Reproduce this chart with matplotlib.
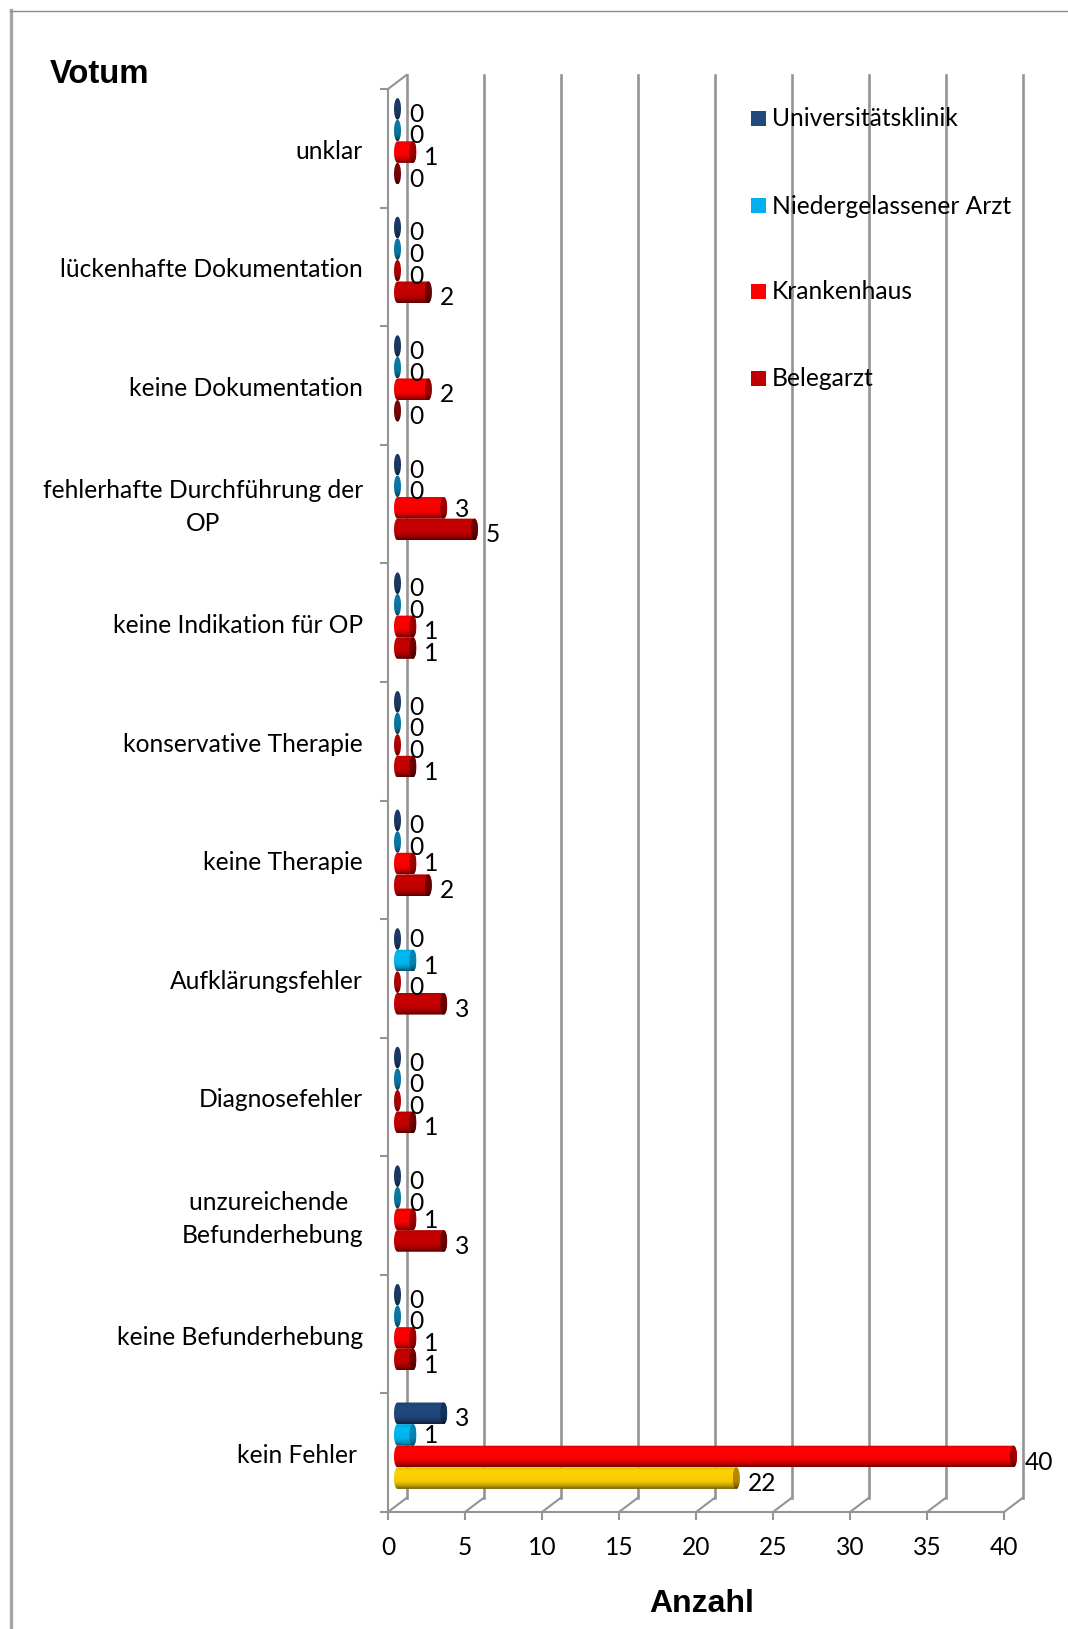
import numpy as np
import matplotlib
matplotlib.use('Agg')
import matplotlib.pyplot as plt
from matplotlib.lines import Line2D
from matplotlib.patches import PathPatch, Rectangle
from matplotlib.path import Path
from matplotlib.transforms import ScaledTranslation

categories = ['unklar', 'lückenhafte Dokumentation', 'keine Dokumentation',
              'fehlerhafte Durchführung der\nOP', 'keine Indikation für OP',
              'konservative Therapie', 'keine Therapie', 'Aufklärungsfehler',
              'Diagnosefehler', 'unzureichende \nBefunderhebung',
              'keine Befunderhebung', 'kein Fehler ']
universitaet = [0, 0, 0, 0, 0, 0, 0, 0, 0, 0, 0, 3]
niedergelassen = [0, 0, 0, 0, 0, 0, 0, 1, 0, 0, 0, 1]
krankenhaus = [1, 0, 2, 3, 1, 0, 1, 0, 0, 1, 1, 40]
belegarzt = [0, 2, 0, 5, 1, 1, 2, 3, 1, 3, 1, 22]
series_names = ['Universitätsklinik', 'Niedergelassener Arzt', 'Krankenhaus', 'Belegarzt']
x_ticks = [0, 5, 10, 15, 20, 25, 30, 35, 40]

W, H = 1068, 1629
FONT = 'Lato'
TXT = 24.6 * 0.72
GREY = '#949494'

# body colour, end cap colour, colour of a zero-length bar
styles = [('#21497f', '#15335c', '#1c3a66'),
          ('#00baf5', '#0087b5', '#0a7aa5'),
          ('#ff0000', '#a00000', '#b00404'),
          ('#c80000', '#6e0000', '#7a0505')]
highlight = ('#ffd200', '#b88a00', '#b88a00')  # Belegarzt bar of the last category

# hand-moved value labels: (category, series) -> px upward
label_nudge = {(3, 2): 4, (6, 2): 6, (7, 0): 5, (9, 2): 4, (11, 1): 5}

fig = plt.figure(figsize=(W / 100, H / 100), dpi=100, facecolor='white')
ax = fig.add_axes([388 / W, 1 - 1512 / H, (1004 - 388) / W, (1512 - 89) / H])
ax.set_facecolor('none')

sx = (1004 - 388) / 40   # px per unit
sy = (1512 - 89) / 12    # px per category
depth_x, depth_y = 18.5 / sx, 14 / sy
bar_h = 21.6 / sy
base = 9.5 / sx
cap = 3.5 / sx
shift = 7 / sy

# back wall and the slanted floor lines
for t in x_ticks:
    ax.plot([t + depth_x] * 2, [-depth_y, 12 - depth_y], color=GREY, lw=1.9, clip_on=False, zorder=1)
    ax.plot([t, t + depth_x], [12, 12 - depth_y], color=GREY, lw=1.5, clip_on=False, zorder=1)
ax.plot([0, depth_x], [0, -depth_y], color=GREY, lw=1.5, clip_on=False, zorder=1)


def half_ellipse(xc, yc, side, n=24):
    a = np.linspace(-np.pi / 2, np.pi / 2, n)
    return np.c_[xc + side * cap * np.cos(a), yc + bar_h / 2 * np.sin(a)]


def shaded(color, n=64):
    rgb = np.array(matplotlib.colors.to_rgb(color))
    pos = np.linspace(0, 1, n)
    k = np.interp(pos, [0, 0.18, 0.65, 0.85, 1], [0.88, 1, 0.96, 0.75, 0.45])
    return (k[:, None, None] * rgb[None, None, :]).clip(0, 1)


def fill_shaded(verts, color, x0, x1, y, z):
    patch = PathPatch(Path(np.r_[verts, verts[:1]]), transform=ax.transData, fc='none', ec='none')
    im = ax.imshow(shaded(color), extent=(x0, x1, y + bar_h / 2, y - bar_h / 2),
                   aspect='auto', interpolation='bilinear', zorder=z)
    im.set_clip_box(fig.bbox)
    im.set_clip_path(patch)


def cylinder(value, y, style, z):
    x0, x1 = base, base + value
    if value == 0:
        verts = np.r_[half_ellipse(x0, y, 1), half_ellipse(x0, y, -1)[::-1]]
        fill_shaded(verts, style[2], x0 - cap, x0 + cap, y, z)
        return
    body = np.r_[half_ellipse(x1, y, 1), half_ellipse(x0, y, -1)[::-1]]
    fill_shaded(body, style[0], x0 - cap, x1 + cap, y, z)
    end = np.r_[half_ellipse(x1, y, 1), half_ellipse(x1, y, -1)[::-1]]
    fill_shaded(end, style[1], x1 - cap, x1 + cap, y, z + 0.1)


all_series = [universitaet, niedergelassen, krankenhaus, belegarzt]
for i in range(len(categories)):
    center = i + 0.5 - shift
    for j, vals in enumerate(all_series):
        y = center + (j - 1.5) * bar_h
        st = highlight if (j == 3 and i == len(categories) - 1) else styles[j]
        cylinder(vals[i], y, st, 3 + i + j * 0.2)
        dy = -5.5 + label_nudge.get((i, j), 0)
        ax.annotate(str(vals[i]), (base + vals[i] + cap, y), xytext=(8 * 0.72, dy * 0.72),
                    textcoords='offset points', ha='left', va='center',
                    fontsize=TXT, family=FONT, color='black', zorder=30, annotation_clip=False)

ax.set_xlim(0, 40)
ax.set_ylim(12, 0)
ax.set_xticks(x_ticks)
ax.set_yticks(np.arange(13))
ax.set_yticklabels([])
ax.set_yticks(np.arange(len(categories)) + 0.5, minor=True)
ax.set_yticklabels(categories, minor=True, fontsize=TXT, family=FONT, linespacing=1.55,
                   multialignment='center')
ax.tick_params(axis='y', which='major', length=8 * 0.72, width=1.5, color=GREY)
ax.tick_params(axis='y', which='minor', length=0, pad=25 * 0.72, colors='black')
ax.tick_params(axis='x', length=8 * 0.72, width=1.5, color=GREY, pad=16 * 0.72, labelsize=TXT)
# two-line labels sit a little higher than the category centre
for lab in ax.get_yticklabels(minor=True):
    dy = 4 if '\n' in lab.get_text() else -1
    lab.set_transform(lab.get_transform() + ScaledTranslation(0, dy / 100, fig.dpi_scale_trans))
for lab in ax.get_xticklabels():
    lab.set_family(FONT)
for side in ['top', 'right']:
    ax.spines[side].set_visible(False)
for side in ['left', 'bottom']:
    ax.spines[side].set_color(GREY)
    ax.spines[side].set_linewidth(1.5)
    ax.spines[side].set_zorder(2)

fig.text(50 / W, 1 - 83 / H, 'Votum', family='Liberation Sans', weight='bold', fontsize=23.7, va='baseline')
fig.text(702 / W, 1 - 1604 / H, 'Anzahl', family='Liberation Sans', weight='bold', fontsize=23,
         ha='center', va='center')

# legend, placed by hand over the grid lines
legend_y = [118.5, 205.5, 291, 378]
legend_colors = ['#1f497d', '#00b0f0', '#ff0000', '#c00000']
for name, c, ly in zip(series_names, legend_colors, legend_y):
    fig.add_artist(Rectangle((751 / W, 1 - (ly + 7.5) / H), 15 / W, 15 / H, transform=fig.transFigure,
                             fc=c, ec='none', zorder=20))
    fig.text(772 / W, 1 - (ly + 0.5) / H, name, family=FONT, fontsize=TXT, va='center', zorder=21)

# outer frame of the chart area (only left and top are in view)
fig.add_artist(Line2D([10.5 / W, 10.5 / W], [0, 1 - 10 / H], color='#a6a6a6', lw=2.4))
fig.add_artist(Line2D([10 / W, 1], [1 - 10.5 / H, 1 - 10.5 / H], color='#8c8c8c', lw=1.0))

fig.savefig('out.png', dpi=100, facecolor='white')
